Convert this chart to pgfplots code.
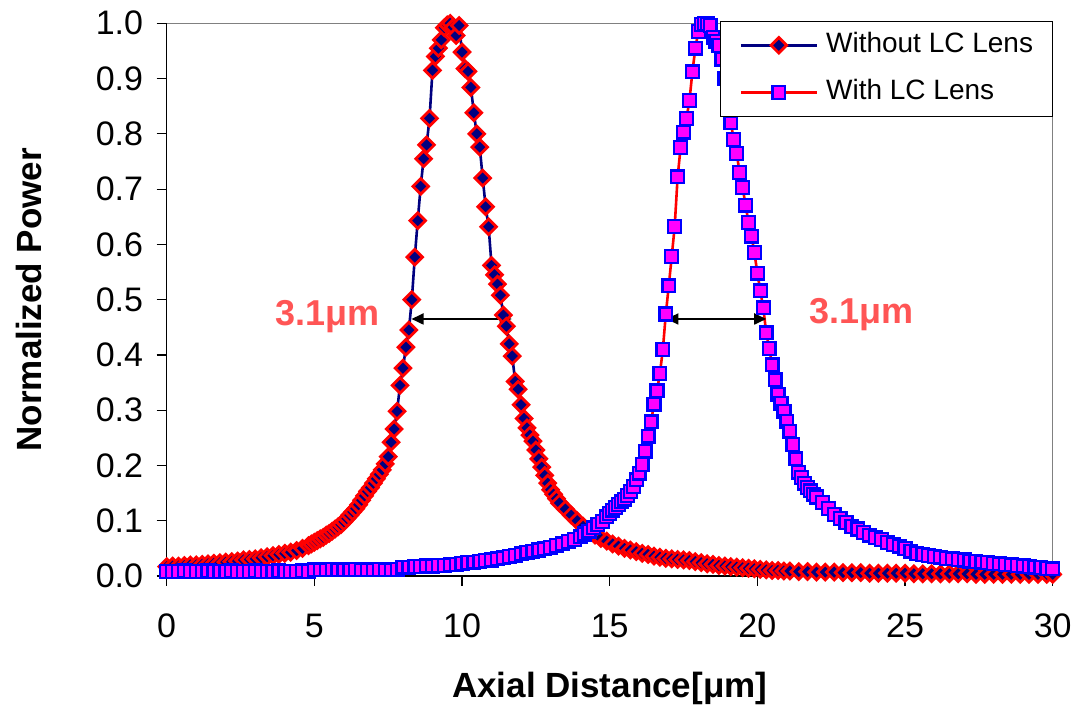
\documentclass[border=0pt]{standalone}
\usepackage{fontspec}
\setmainfont{Liberation Sans}
\usepackage{pgfplots}
\usepackage{pgfplotstable}
\pgfplotsset{compat=1.18}
\usetikzlibrary{arrows.meta}
\definecolor{navyc}{RGB}{0,0,128}
\definecolor{annot}{RGB}{255,85,85}
\definecolor{magc}{RGB}{255,0,255}
\definecolor{bluc}{RGB}{0,0,255}
\definecolor{redc}{RGB}{255,0,0}

\pgfplotstableread{
x y
0.0 0.017
0.2 0.018
0.4 0.018
0.6 0.019
0.8 0.020
1.0 0.020
1.2 0.021
1.4 0.022
1.6 0.023
1.8 0.024
2.0 0.025
2.2 0.026
2.4 0.027
2.6 0.029
2.8 0.030
3.0 0.031
3.2 0.033
3.4 0.035
3.6 0.037
3.8 0.039
4.0 0.041
4.2 0.043
4.4 0.046
4.6 0.050
4.8 0.055
4.9 0.058
5.0 0.061
5.1 0.064
5.2 0.067
5.3 0.070
5.4 0.074
5.5 0.077
5.6 0.081
5.7 0.085
5.8 0.089
5.9 0.093
6.0 0.098
6.1 0.104
6.2 0.110
6.3 0.116
6.4 0.122
6.5 0.129
6.6 0.137
6.7 0.145
6.8 0.153
6.9 0.160
7.0 0.168
7.1 0.176
7.2 0.184
7.3 0.192
7.4 0.203
7.5 0.216
7.6 0.242
7.7 0.266
7.8 0.298
7.9 0.345
8.0 0.376
8.1 0.414
8.2 0.445
8.3 0.500
8.4 0.577
8.5 0.643
8.6 0.705
8.7 0.755
8.8 0.780
8.9 0.828
9.0 0.915
9.1 0.940
9.2 0.955
9.3 0.970
9.4 0.992
9.5 0.997
9.6 1.000
9.7 0.993
9.8 0.978
9.9 0.996
10.0 0.948
10.1 0.918
10.2 0.913
10.3 0.884
10.4 0.838
10.5 0.800
10.6 0.776
10.7 0.720
10.8 0.668
10.9 0.632
11.0 0.562
11.1 0.545
11.2 0.528
11.3 0.508
11.4 0.472
11.5 0.452
11.6 0.420
11.7 0.398
11.8 0.352
11.9 0.338
12.0 0.310
12.1 0.285
12.2 0.268
12.3 0.255
12.4 0.244
12.5 0.228
12.6 0.212
12.7 0.197
12.8 0.182
12.9 0.168
13.0 0.156
13.1 0.148
13.2 0.140
13.3 0.132
13.5 0.121
13.7 0.110
13.9 0.100
14.1 0.090
14.3 0.081
14.5 0.074
14.7 0.068
14.9 0.063
15.1 0.058
15.3 0.054
15.5 0.050
15.7 0.047
15.9 0.044
16.1 0.041
16.3 0.039
16.5 0.036
16.7 0.034
16.9 0.032
17.1 0.031
17.3 0.030
17.5 0.029
17.7 0.028
17.9 0.026
18.1 0.024
18.3 0.022
18.5 0.021
18.7 0.019
18.9 0.018
19.1 0.017
19.3 0.016
19.5 0.015
19.7 0.014
19.9 0.013
20.1 0.012
20.3 0.011
20.5 0.010
20.7 0.010
20.9 0.009
21.1 0.009
21.4 0.008
21.7 0.008
22.0 0.007
22.3 0.007
22.6 0.007
22.9 0.006
23.2 0.006
23.5 0.006
23.8 0.005
24.1 0.005
24.4 0.005
24.7 0.005
25.0 0.005
25.3 0.004
25.6 0.004
25.9 0.004
26.2 0.004
26.5 0.004
26.8 0.004
27.1 0.004
27.4 0.003
27.7 0.003
28.0 0.003
28.3 0.003
28.6 0.003
28.9 0.003
29.2 0.003
29.5 0.003
29.8 0.003
30.0 0.003
}\redtab

\pgfplotstableread{
x y
0.0 0.008
0.2 0.008
0.4 0.008
0.6 0.009
0.8 0.008
1.0 0.008
1.2 0.008
1.4 0.009
1.6 0.008
1.8 0.008
2.0 0.008
2.2 0.009
2.4 0.008
2.6 0.008
2.8 0.008
3.0 0.009
3.2 0.008
3.4 0.008
3.6 0.008
3.8 0.009
4.0 0.008
4.2 0.008
4.4 0.008
4.6 0.009
4.8 0.008
5.0 0.011
5.2 0.011
5.4 0.011
5.6 0.012
5.8 0.011
6.0 0.011
6.2 0.011
6.4 0.012
6.6 0.011
6.8 0.011
7.0 0.011
7.2 0.012
7.4 0.011
7.6 0.011
7.8 0.012
8.0 0.016
8.2 0.016
8.4 0.017
8.6 0.017
8.8 0.018
9.0 0.018
9.2 0.019
9.4 0.019
9.6 0.020
9.8 0.021
10.0 0.023
10.2 0.024
10.4 0.025
10.6 0.026
10.8 0.028
11.0 0.029
11.2 0.031
11.4 0.033
11.6 0.035
11.8 0.037
12.0 0.040
12.2 0.043
12.4 0.045
12.6 0.047
12.8 0.049
13.0 0.052
13.2 0.055
13.4 0.058
13.6 0.062
13.8 0.066
14.0 0.071
14.15 0.076
14.3 0.081
14.45 0.087
14.6 0.093
14.75 0.099
14.9 0.107
15.0 0.113
15.1 0.119
15.2 0.124
15.3 0.129
15.4 0.134
15.5 0.139
15.6 0.146
15.7 0.153
15.8 0.162
15.9 0.174
16.0 0.186
16.1 0.202
16.2 0.226
16.3 0.253
16.4 0.279
16.5 0.311
16.6 0.335
16.7 0.366
16.8 0.410
16.9 0.474
17.0 0.525
17.1 0.578
17.2 0.632
17.3 0.722
17.4 0.775
17.5 0.803
17.6 0.828
17.7 0.860
17.8 0.912
17.9 0.955
18.0 0.985
18.1 0.998
18.2 1.000
18.3 0.999
18.4 0.996
18.5 0.975
18.6 0.967
18.7 0.960
18.8 0.935
18.9 0.900
19.0 0.860
19.1 0.820
19.2 0.790
19.3 0.764
19.4 0.730
19.5 0.703
19.6 0.671
19.7 0.640
19.8 0.615
19.9 0.585
20.0 0.548
20.1 0.516
20.2 0.485
20.3 0.440
20.4 0.412
20.5 0.382
20.6 0.355
20.7 0.328
20.8 0.312
20.9 0.298
21.0 0.280
21.1 0.262
21.2 0.238
21.3 0.212
21.4 0.188
21.5 0.178
21.6 0.168
21.7 0.160
21.8 0.154
21.9 0.148
22.0 0.143
22.2 0.133
22.4 0.122
22.6 0.111
22.8 0.104
23.0 0.097
23.2 0.090
23.4 0.085
23.6 0.079
23.8 0.074
24.0 0.070
24.2 0.066
24.4 0.061
24.6 0.057
24.8 0.054
25.0 0.050
25.2 0.045
25.4 0.041
25.6 0.039
25.8 0.037
26.0 0.035
26.2 0.034
26.4 0.032
26.6 0.031
26.8 0.030
27.0 0.029
27.2 0.027
27.4 0.026
27.6 0.025
27.8 0.024
28.0 0.023
28.2 0.022
28.4 0.021
28.6 0.020
28.8 0.019
29.0 0.018
29.2 0.017
29.4 0.016
29.6 0.015
29.8 0.014
30.0 0.013
}\bluetab

\begin{document}
\begin{tikzpicture}
\path[use as bounding box] (-83.35pt,-67pt) rectangle (453.65pt,288pt);
\begin{axis}[
  at={(0pt,0pt)}, anchor=south west,
  scale only axis, width=443pt, height=276.35pt,
  xmin=0, xmax=30, ymin=0, ymax=1,
  axis x line*=bottom, axis y line*=left,
  axis line style={black, line width=0.7pt},
  xtick={0,5,10,15,20,25,30},
  ytick={0,0.1,0.2,0.3,0.4,0.5,0.6,0.7,0.8,0.9,1},
  tick align=outside,
  major tick length=5pt,
  tick style={black, line width=0.6pt},
  /pgf/number format/assume math mode=true,
  ticklabel style={font=\fontsize{17}{19}\selectfont},
  xticklabel style={yshift=-10.5pt},
  yticklabel style={xshift=-3.3pt, /pgf/number format/.cd, fixed, fixed zerofill, precision=1},
  xlabel={Axial Distance[μm]},
  ylabel={Normalized Power},
  label style={font=\bfseries\fontsize{17.5}{20}\selectfont},
  xlabel style={at={(axis description cs:0.5,0)}, anchor=center, yshift=-56pt},
  ylabel style={at={(axis description cs:0,0.5)}, anchor=center, yshift=69pt},
  clip=false,
  legend style={at={(rel axis cs:1,1)}, anchor=north east, yshift=1.3pt,
    draw=black, line width=0.6pt, fill=white,
    font=\fontsize{14}{16}\selectfont,
    inner xsep=9.5pt, inner ysep=5.5pt, row sep=10.5pt,
    nodes={inner sep=0pt, text height=10pt, text depth=3pt},
    /tikz/every odd column/.append style={column sep=4pt}},
  legend cell align=left,
  legend image code/.code={\draw[mark repeat=2, mark phase=2, #1] plot coordinates {(0pt,0pt) (19pt,0pt) (38pt,0pt)};},
]
\draw[gray, line width=0.7pt] (rel axis cs:0,1) -- (rel axis cs:1,1) -- (rel axis cs:1,0);
\addplot[color=navyc, line width=1.3pt, mark=square*, mark size=2.75pt,
  mark options={solid, rotate=45, fill=navyc, draw=redc, line width=1.4pt}] table {\redtab};
\addlegendentry{Without LC Lens}
\addplot[color=redc, line width=1.3pt, mark=square*, mark size=3.2pt,
  mark options={solid, fill=magc, draw=bluc, line width=1.15pt}] table {\bluetab};
\addlegendentry{With LC Lens}
\draw[{Triangle[length=6pt,width=5.5pt]}-{Triangle[length=6pt,width=5.5pt]}, line width=0.9pt]
  (axis cs:8.29,0.465) -- (axis cs:11.68,0.465);
\draw[{Triangle[length=6pt,width=5.5pt]}-{Triangle[length=6pt,width=5.5pt]}, line width=0.9pt]
  (axis cs:16.92,0.465) -- (axis cs:20.30,0.465);
\node[text=annot, font=\bfseries\fontsize{18}{20}\selectfont, anchor=base, inner sep=0pt] at (axis cs:5.44,0.454) {3.1μm};
\node[text=annot, font=\bfseries\fontsize{18}{20}\selectfont, anchor=base, inner sep=0pt] at (axis cs:23.52,0.456) {3.1μm};
\end{axis}
\end{tikzpicture}
\end{document}
